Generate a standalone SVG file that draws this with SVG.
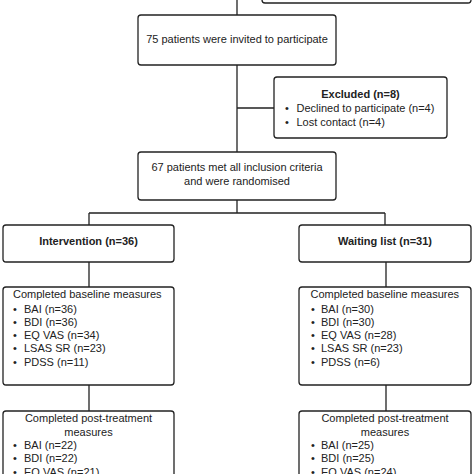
<svg xmlns="http://www.w3.org/2000/svg" width="474" height="474" viewBox="0 0 474 474">
<style>
.box{fill:#fff;stroke:#222;stroke-width:1.3}
.ln{fill:none;stroke:#222;stroke-width:1.3}
text{font-family:"Liberation Sans",Arial,sans-serif;font-size:11px;fill:#222}
.c{text-anchor:middle}
.b{font-weight:bold}
</style>
<rect width="474" height="474" fill="#fff"/>
<g id="connectors">
<path class="ln" d="M237,0V152M237,108H274M237,200V213M89,213H385M89,213V225M385,213V225M89,262V287M386,262V287M89,385V411M386,385V411"/>
</g>
<g id="top"><rect class="box" x="262" y="-40" width="209" height="43" rx="3"/></g>
<g id="invited"><rect class="box" x="138" y="15" width="198" height="50" rx="3"/>
<text class="c" x="237" y="43">75 patients were invited to participate</text></g>
<g id="excluded"><rect class="box" x="274" y="77" width="173" height="61" rx="3"/>
<text class="c b" x="360.5" y="98">Excluded (n=8)</text>
<text x="285" y="112">•</text><text x="296.5" y="112">Declined to participate (n=4)</text>
<text x="285" y="126">•</text><text x="296.5" y="126">Lost contact (n=4)</text></g>
<g id="randomised"><rect class="box" x="138" y="152" width="198" height="48" rx="3"/>
<text class="c" x="237" y="171">67 patients met all inclusion criteria</text>
<text class="c" x="237" y="185">and were randomised</text></g>
<g id="intervention"><rect class="box" x="3" y="225" width="171" height="37" rx="3"/>
<text class="c b" x="88.5" y="245">Intervention (n=36)</text></g>
<g id="waiting"><rect class="box" x="299" y="225" width="172" height="37" rx="3"/>
<text class="c b" x="385" y="245">Waiting list (n=31)</text></g>
<g id="baseline-int"><rect class="box" x="3" y="287" width="171" height="98" rx="3"/>
<text x="13" y="298">Completed baseline measures</text>
<text x="13" y="312.5">•</text><text x="24" y="312.5">BAI (n=36)</text>
<text x="13" y="325.8">•</text><text x="24" y="325.8">BDI (n=36)</text>
<text x="13" y="339.1">•</text><text x="24" y="339.1">EQ VAS (n=34)</text>
<text x="13" y="352.4">•</text><text x="24" y="352.4">LSAS SR (n=23)</text>
<text x="13" y="365.7">•</text><text x="24" y="365.7">PDSS (n=11)</text></g>
<g id="baseline-wait"><rect class="box" x="299" y="287" width="172" height="98" rx="3"/>
<text x="310.5" y="298">Completed baseline measures</text>
<text x="311" y="312.5">•</text><text x="321" y="312.5">BAI (n=30)</text>
<text x="311" y="325.8">•</text><text x="321" y="325.8">BDI (n=30)</text>
<text x="311" y="339.1">•</text><text x="321" y="339.1">EQ VAS (n=28)</text>
<text x="311" y="352.4">•</text><text x="321" y="352.4">LSAS SR (n=23)</text>
<text x="311" y="365.7">•</text><text x="321" y="365.7">PDSS (n=6)</text></g>
<g id="post-int"><rect class="box" x="3" y="411" width="171" height="100" rx="3"/>
<text class="c" x="88.5" y="422">Completed post-treatment</text>
<text class="c" x="88.5" y="435.5">measures</text>
<text x="13" y="449">•</text><text x="24" y="449">BAI (n=22)</text>
<text x="13" y="462.4">•</text><text x="24" y="462.4">BDI (n=22)</text>
<text x="13" y="475.8">•</text><text x="24" y="475.8">EQ VAS (n=21)</text></g>
<g id="post-wait"><rect class="box" x="299" y="411" width="172" height="100" rx="3"/>
<text class="c" x="385" y="422">Completed post-treatment</text>
<text class="c" x="385" y="435.5">measures</text>
<text x="311" y="449">•</text><text x="321" y="449">BAI (n=25)</text>
<text x="311" y="462.4">•</text><text x="321" y="462.4">BDI (n=25)</text>
<text x="311" y="475.8">•</text><text x="321" y="475.8">EQ VAS (n=24)</text></g>
</svg>
